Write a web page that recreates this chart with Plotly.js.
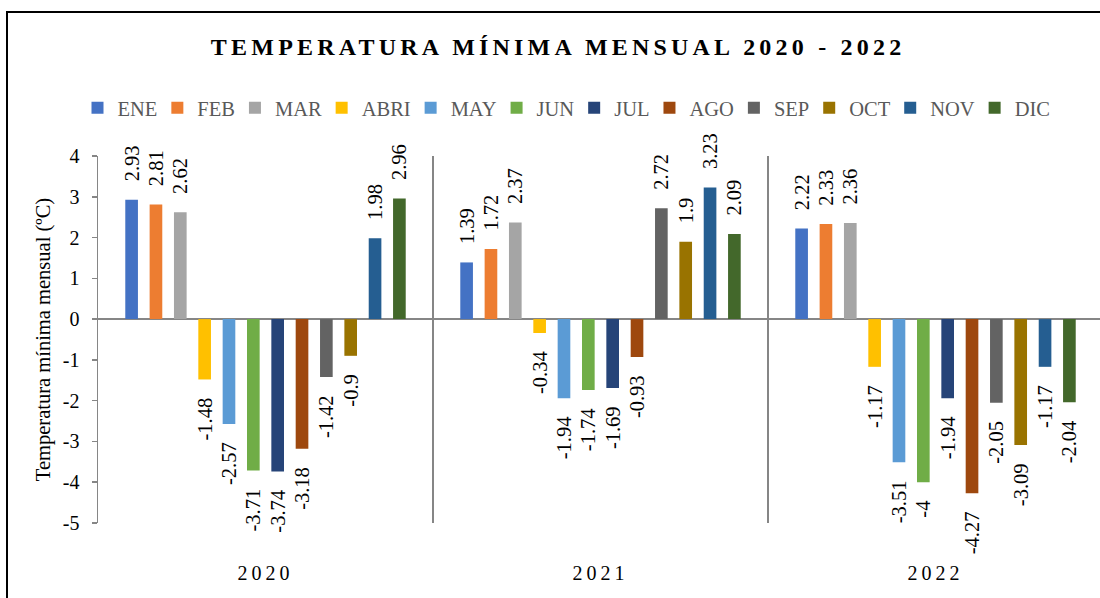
<!DOCTYPE html>
<html><head><meta charset="utf-8">
<script src="https://cdn.plot.ly/plotly-3.0.1.min.js"></script>
<style>
html,body{margin:0;padding:0;overflow:hidden;background:#fff;width:1100px;height:598px;}
#wrap{position:relative;width:1100px;height:598px;overflow:hidden;background:#fff;}
#chart{position:absolute;left:0;top:0;width:1103px;height:598px;}
#frame{position:absolute;left:6px;top:11px;width:1200px;height:700px;border:2px solid #000;pointer-events:none;}
.gtitle{letter-spacing:4.2px;}
.xtick text{letter-spacing:4px;}
</style></head>
<body><div id="wrap"><div id="chart"></div><div id="frame"></div></div>
<script>
// Categories (years) and series (months)
const years = ['2020', '2021', '2022'];
const months = ['ENE', 'FEB', 'MAR', 'ABRI', 'MAY', 'JUN', 'JUL', 'AGO', 'SEP', 'OCT', 'NOV', 'DIC'];

// Minimum monthly temperature (ºC), values per year [2020, 2021, 2022]
const ene  = [2.93, 1.39, 2.22];
const feb  = [2.81, 1.72, 2.33];
const mar  = [2.62, 2.37, 2.36];
const abri = [-1.48, -0.34, -1.17];
const may  = [-2.57, -1.94, -3.51];
const jun  = [-3.71, -1.74, -4];
const jul  = [-3.74, -1.69, -1.94];
const ago  = [-3.18, -0.93, -4.27];
const sep  = [-1.42, 2.72, -2.05];
const oct  = [-0.9, 1.9, -3.09];
const nov  = [1.98, 3.23, -1.17];
const dic  = [2.96, 2.09, -2.04];

// Y-axis ticks
const yTickVals = [-5, -4, -3, -2, -1, 0, 1, 2, 3, 4];
const yTickText = ['-5', '-4', '-3', '-2', '-1', '0', '1', '2', '3', '4'];

const series = [ene, feb, mar, abri, may, jun, jul, ago, sep, oct, nov, dic];
const colors = ['#4472C4', '#ED7D31', '#A5A5A5', '#FFC000', '#5B9BD5', '#70AD47',
                '#264478', '#9E480E', '#636363', '#997300', '#255E91', '#43682B'];

const PAD = '\u00A0\u00A0\u00A0';
const FONT = 'Liberation Serif, Times New Roman, serif';
const LEGEND_SIZE = 20.5;

// measure legend label widths so each legend entry is as wide as its text
const cv = document.createElement('canvas').getContext('2d');
cv.font = LEGEND_SIZE + 'px "Liberation Serif"';
const textW = s => cv.measureText(s).width;

const traces = months.map((m, i) => ({
  type: 'bar',
  name: m,
  x: years,
  y: series[i],
  marker: { color: colors[i] },
  legendwidth: Math.max(1, textW(m) - 5),
  text: series[i].map(v => v >= 0 ? PAD + String(v) : String(v) + PAD),
  textposition: 'outside',
  textangle: -90,
  constraintext: 'none',
  cliponaxis: false,
  textfont: { family: FONT, size: 20.5, color: '#000' },
  hoverinfo: 'none'
}));

const layout = {
  width: 1103,
  height: 598,
  margin: { l: 98, r: 0, t: 156, b: 75, autoexpand: false },
  paper_bgcolor: '#fff',
  plot_bgcolor: '#fff',
  font: { family: FONT, color: '#000' },
  barmode: 'group',
  bargap: 0.128,
  bargroupgap: 0.48,
  showlegend: true,
  title: {
    text: 'TEMPERATURA MÍNIMA MENSUAL 2020 - 2022',
    font: { family: FONT, size: 24, color: '#000', weight: 'bold' },
    xref: 'container', x: 0.506, xanchor: 'center',
    yref: 'container', y: 1 - 47 / 598, yanchor: 'middle'
  },
  legend: {
    orientation: 'h',
    x: (564 - 98) / 1005, xanchor: 'center',
    y: 1.131, yanchor: 'middle',
    font: { family: FONT, size: LEGEND_SIZE, color: '#595959' },
    bgcolor: 'rgba(0,0,0,0)',
    traceorder: 'normal'
  },
  xaxis: {
    type: 'category',
    tickson: 'boundaries',
    showgrid: true,
    gridcolor: '#868686',
    gridwidth: 1.5,
    ticks: '',
    showline: false,
    zeroline: false,
    tickfont: { family: FONT, size: 20, color: '#000' },
    ticklabelstandoff: 36,
    fixedrange: true
  },
  yaxis: {
    range: [-5, 4],
    tickvals: yTickVals,
    ticktext: yTickText,
    showgrid: false,
    zeroline: true,
    zerolinecolor: '#868686',
    zerolinewidth: 2,
    showline: true,
    linecolor: '#868686',
    linewidth: 1.5,
    ticks: 'outside',
    ticklen: 5,
    tickwidth: 1.5,
    tickcolor: '#868686',
    tickfont: { family: FONT, size: 20, color: '#000' },
    ticklabelstandoff: 8,
    title: { text: 'Temperatura mínima mensual (ºC)', font: { family: FONT, size: 20.5, color: '#000' }, standoff: 6 },
    fixedrange: true
  }
};

Plotly.newPlot('chart', traces, layout, { staticPlot: true, displayModeBar: false });
</script>
</body></html>
